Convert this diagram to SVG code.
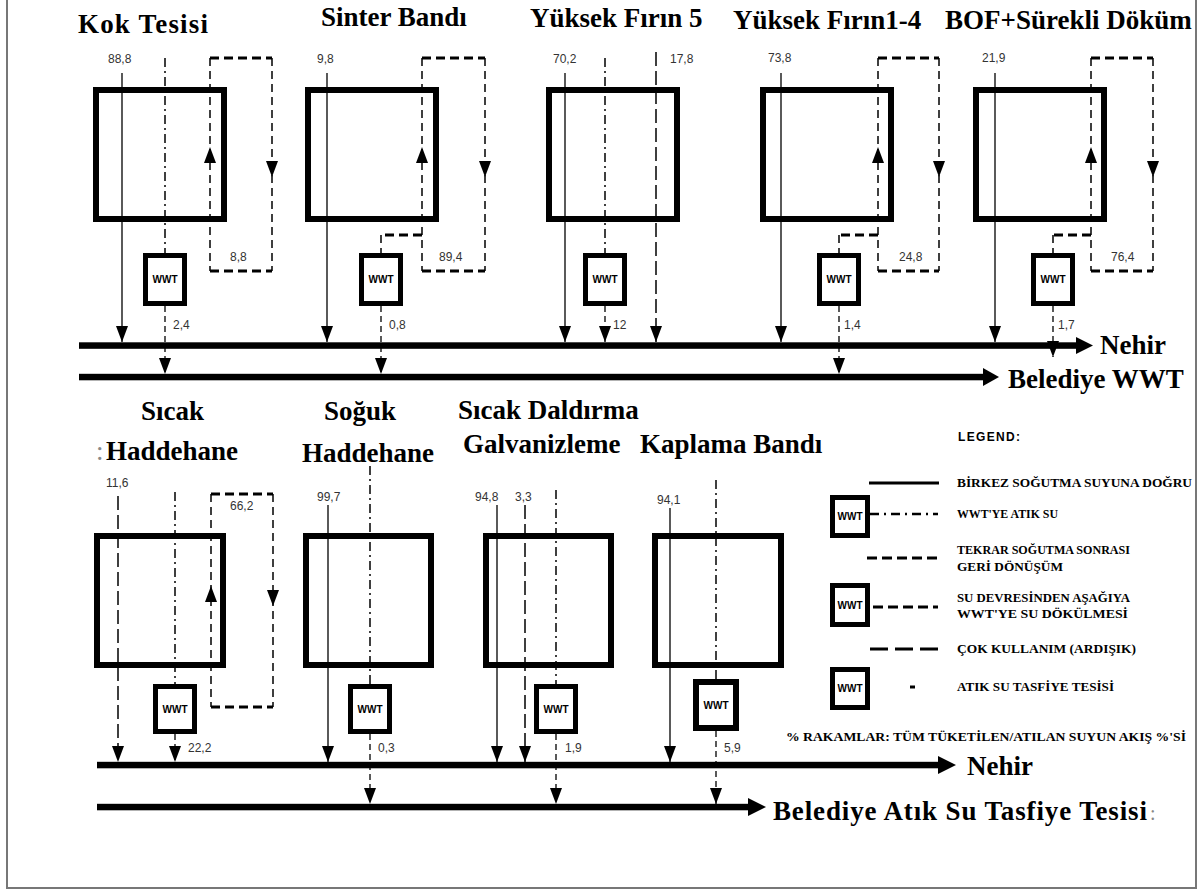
<svg xmlns="http://www.w3.org/2000/svg" width="1198" height="890" viewBox="0 0 1198 890">
<defs>
<style>
.box{fill:none;stroke:#000;stroke-width:6}
.wwt{fill:#fff;stroke:#000;stroke-width:5}
.s{fill:none;stroke:#000;stroke-width:1.3}
.dd{fill:none;stroke:#000;stroke-width:1.5;stroke-dasharray:9 4 2 4}
.dv{fill:none;stroke:#000;stroke-width:1.5;stroke-dasharray:8 5}
.dh{fill:none;stroke:#000;stroke-width:3;stroke-dasharray:9 5}
.ld{fill:none;stroke:#000;stroke-width:1.5;stroke-dasharray:14 5}
.bd{fill:none;stroke:#000;stroke-width:1.3;stroke-dasharray:6 4}
.main{fill:#000}
.t{font-family:"Liberation Serif","Times New Roman",serif;font-weight:bold;font-size:27px;fill:#000}
.n{font-family:"Liberation Sans",Arial,sans-serif;font-size:12px;fill:#333}
.w{font-family:"Liberation Sans",Arial,sans-serif;font-weight:bold;font-size:10px;text-anchor:middle;fill:#000}
.lg{font-family:"Liberation Serif","Times New Roman",serif;font-weight:bold;font-size:12.5px;fill:#000}
.lgh{font-family:"Liberation Sans",Arial,sans-serif;font-weight:bold;font-size:12px;fill:#000}
.gr{fill:#888}
</style>
<marker id="ah" markerUnits="userSpaceOnUse" markerWidth="16" markerHeight="12" viewBox="0 0 16 12" refX="16" refY="6" orient="auto"><path d="M0,0 L16,6 L0,12 z" fill="#000"/></marker>
</defs>
<rect width="1198" height="890" fill="#fff"/>
<path d="M7,0 V888 H1196 V0" fill="none" stroke="#777" stroke-width="2"/>

<!-- main flow lines -->
<g id="nehir-top">
<rect class="main" x="79" y="342.3" width="999" height="6.5"/>
<polygon class="main" points="1076,337 1093,345.5 1076,354"/>
<text class="t" x="1100" y="354">Nehir</text>
</g>
<g id="belediye-top">
<rect class="main" x="79" y="373.8" width="906" height="6.5"/>
<polygon class="main" points="983,368 999,377 983,386"/>
<text class="t" x="1008" y="388">Belediye WWT</text>
</g>
<g id="nehir-bottom">
<rect class="main" x="97" y="761.8" width="843" height="6.5"/>
<polygon class="main" points="938,756 956,765 938,774"/>
<text class="t" x="967" y="775">Nehir</text>
</g>
<g id="belediye-bottom">
<rect class="main" x="97" y="803.8" width="653" height="6.5"/>
<polygon class="main" points="748,798 766,807 748,816"/>
<text class="t" x="773" y="820" textLength="374">Belediye Atık Su Tasfiye Tesisi</text><text class="t gr" x="1150" y="820" style="font-weight:normal;font-size:20px">:</text>
</g>

<!-- plant nodes -->
<g id="node-kok">
<text class="t" x="78" y="33" textLength="130">Kok Tesisi</text>
<rect class="box" x="96" y="90" width="128" height="129"/>
<text class="n" x="108" y="63">88,8</text>
<text class="n" x="230" y="261">8,8</text>
<text class="n" x="173" y="329">2,4</text>
</g>
<g id="node-sinter">
<text class="t" x="321" y="26">Sinter Bandı</text>
<rect class="box" x="308" y="90" width="128" height="129"/>
<text class="n" x="317" y="63">9,8</text>
<text class="n" x="439" y="261">89,4</text>
<text class="n" x="389" y="329">0,8</text>
</g>
<g id="node-yf5">
<text class="t" x="530" y="27">Yüksek Fırın 5</text>
<rect class="box" x="549" y="90" width="128" height="129"/>
<text class="n" x="553" y="63">70,2</text>
<text class="n" x="670" y="63">17,8</text>
<text class="n" x="613" y="329">12</text>
</g>
<g id="node-yf14">
<text class="t" x="733" y="29">Yüksek Fırın1-4</text>
<rect class="box" x="763" y="90" width="128" height="129"/>
<text class="n" x="768" y="62">73,8</text>
<text class="n" x="899" y="261">24,8</text>
<text class="n" x="844" y="329">1,4</text>
</g>
<g id="node-bof">
<text class="t" x="945" y="29">BOF+Sürekli Döküm</text>
<rect class="box" x="976" y="90" width="128" height="129"/>
<text class="n" x="982" y="62">21,9</text>
<text class="n" x="1111" y="261">76,4</text>
<text class="n" x="1058" y="329">1,7</text>
</g>
<g id="node-sicak-haddehane">
<text class="t" x="141" y="420">Sıcak</text>
<text class="t gr" x="96" y="460" style="font-weight:normal">:</text><text class="t" x="106" y="460">Haddehane</text>
<rect class="box" x="97" y="536" width="126" height="129"/>
<text class="n" x="106" y="487">11,6</text>
<text class="n" x="230" y="510">66,2</text>
<text class="n" x="188" y="752">22,2</text>
</g>
<g id="node-soguk-haddehane">
<text class="t" x="324" y="420">Soğuk</text>
<text class="t" x="302" y="462">Haddehane</text>
<rect class="box" x="306" y="536" width="125" height="129"/>
<text class="n" x="317" y="501">99,7</text>
<text class="n" x="378" y="752">0,3</text>
</g>
<g id="node-galvanizleme">
<text class="t" x="458" y="419">Sıcak Daldırma</text>
<text class="t" x="463" y="453">Galvanizleme</text>
<rect class="box" x="486" y="536" width="125" height="129"/>
<text class="n" x="475" y="501">94,8</text>
<text class="n" x="515" y="501">3,3</text>
<text class="n" x="565" y="752">1,9</text>
</g>
<g id="node-kaplama">
<text class="t" x="640" y="453">Kaplama Bandı</text>
<rect class="box" x="655" y="536" width="126" height="129"/>
<text class="n" x="657" y="504">94,1</text>
<text class="n" x="724" y="752">5,9</text>
</g>

<!-- connectors -->
<g id="connectors">
<!-- Kok -->
<path class="s" d="M122,73 V342" marker-end="url(#ah)"/>
<path class="dd" d="M165,58 V253"/>
<path class="bd" d="M165,306 V374" marker-end="url(#ah)"/>
<path class="dh" d="M210,58 H272 M210,271 H272"/>
<path class="dv" d="M210,58 V271 M272,58 V271"/>
<polygon points="204,163 210,147 216,163"/><polygon points="266,161 272,177 278,161"/>
<!-- Sinter -->
<path class="s" d="M327,73 V342" marker-end="url(#ah)"/>
<path class="dh" d="M422,58 H485 M422,271 H485 M422,235 H381"/>
<path class="dv" d="M422,58 V271 M485,58 V271 M381,235 V253"/>
<path class="bd" d="M381,306 V374" marker-end="url(#ah)"/>
<polygon points="416,163 422,147 428,163"/><polygon points="479,161 485,177 491,161"/>
<!-- YF5 -->
<path class="s" d="M565,73 V342" marker-end="url(#ah)"/>
<path class="dd" d="M605,58 V253"/>
<path class="bd" d="M605,306 V342" marker-end="url(#ah)"/>
<path class="ld" d="M656,52 V342" marker-end="url(#ah)"/>
<!-- YF1-4 -->
<path class="s" d="M781,73 V342" marker-end="url(#ah)"/>
<path class="dh" d="M878,58 H939 M878,271 H939 M878,235 H839"/>
<path class="dv" d="M878,58 V271 M939,58 V271 M839,235 V253"/>
<path class="bd" d="M839,306 V374" marker-end="url(#ah)"/>
<polygon points="872,163 878,147 884,163"/><polygon points="933,161 939,177 945,161"/>
<!-- BOF -->
<path class="s" d="M995,73 V342" marker-end="url(#ah)"/>
<path class="dh" d="M1091,58 H1153 M1091,271 H1153 M1091,235 H1053"/>
<path class="dv" d="M1091,58 V271 M1153,58 V271 M1053,235 V253"/>
<path class="bd" d="M1053,306 V357" marker-end="url(#ah)"/>
<polygon points="1085,163 1091,147 1097,163"/><polygon points="1147,161 1153,177 1159,161"/>
<!-- Sicak Haddehane -->
<path class="ld" d="M118,496 V762" marker-end="url(#ah)"/>
<path class="dd" d="M175,492 V684"/>
<path class="bd" d="M175,734 V762" marker-end="url(#ah)"/>
<path class="dh" d="M211,494 H273 M211,707 H273"/>
<path class="dv" d="M211,494 V707 M273,494 V707"/>
<polygon points="205,602 211,586 217,602"/><polygon points="267,590 273,606 279,590"/>
<!-- Soguk Haddehane -->
<path class="s" d="M328,505 V762" marker-end="url(#ah)"/>
<path class="dd" d="M370,466 V684"/>
<path class="bd" d="M370,734 V804" marker-end="url(#ah)"/>
<!-- Galvanizleme -->
<path class="s" d="M497,505 V762" marker-end="url(#ah)"/>
<path class="ld" d="M525,505 V762" marker-end="url(#ah)"/>
<path class="dd" d="M556,490 V684"/>
<path class="bd" d="M556,734 V804" marker-end="url(#ah)"/>
<!-- Kaplama -->
<path class="s" d="M670,508 V762" marker-end="url(#ah)"/>
<path class="dd" d="M716,480 V679"/>
<path class="bd" d="M716,731 V804" marker-end="url(#ah)"/>
</g>

<!-- WWT units -->
<g id="wwt-kok"><rect class="wwt" x="145.5" y="255.5" width="39" height="48"/><text class="w" x="165" y="283">WWT</text></g>
<g id="wwt-sinter"><rect class="wwt" x="361.5" y="255.5" width="39" height="48"/><text class="w" x="381" y="283">WWT</text></g>
<g id="wwt-yf5"><rect class="wwt" x="585.5" y="255.5" width="39" height="48"/><text class="w" x="605" y="283">WWT</text></g>
<g id="wwt-yf14"><rect class="wwt" x="819.5" y="255.5" width="39" height="48"/><text class="w" x="839" y="283">WWT</text></g>
<g id="wwt-bof"><rect class="wwt" x="1033.5" y="255.5" width="39" height="48"/><text class="w" x="1053" y="283">WWT</text></g>
<g id="wwt-sicak"><rect class="wwt" x="155.5" y="686.5" width="39" height="45"/><text class="w" x="175" y="713">WWT</text></g>
<g id="wwt-soguk"><rect class="wwt" x="350.5" y="686.5" width="39" height="45"/><text class="w" x="370" y="713">WWT</text></g>
<g id="wwt-galv"><rect class="wwt" x="536.5" y="686.5" width="39" height="45"/><text class="w" x="556" y="713">WWT</text></g>
<g id="wwt-kaplama"><rect class="wwt" x="696" y="682" width="40" height="46" style="stroke-width:6"/><text class="w" x="716" y="709">WWT</text></g>

<!-- legend -->
<g id="legend">
<text class="lgh" x="958" y="441" textLength="62">LEGEND:</text>
<line x1="869" y1="483" x2="939" y2="483" stroke="#000" stroke-width="3"/>
<text class="lg" x="957" y="487" textLength="235" lengthAdjust="spacingAndGlyphs">BİRKEZ SOĞUTMA SUYUNA DOĞRU</text>
<rect class="wwt" x="832.5" y="497.5" width="35" height="38"/><text class="w" x="850" y="520">WWT</text>
<line x1="870" y1="514" x2="938" y2="514" stroke="#000" stroke-width="2.5" stroke-dasharray="9 5 2 5"/>
<text class="lg" x="957" y="518" textLength="101" lengthAdjust="spacingAndGlyphs">WWT'YE ATIK SU</text>
<line x1="867" y1="558" x2="940" y2="558" stroke="#000" stroke-width="3" stroke-dasharray="10 5"/>
<text class="lg" x="957" y="554" textLength="173" lengthAdjust="spacingAndGlyphs">TEKRAR SOĞUTMA SONRASI</text>
<text class="lg" x="957" y="571" textLength="106" lengthAdjust="spacingAndGlyphs">GERİ DÖNÜŞÜM</text>
<rect class="wwt" x="832.5" y="585.5" width="35" height="39"/><text class="w" x="850" y="609">WWT</text>
<line x1="873" y1="607" x2="938" y2="607" stroke="#000" stroke-width="3" stroke-dasharray="10 5"/>
<text class="lg" x="957" y="602" textLength="173" lengthAdjust="spacingAndGlyphs">SU DEVRESİNDEN AŞAĞIYA</text>
<text class="lg" x="957" y="618" textLength="171" lengthAdjust="spacingAndGlyphs">WWT'YE SU DÖKÜLMESİ</text>
<line x1="870" y1="649" x2="938" y2="649" stroke="#000" stroke-width="3" stroke-dasharray="18 7"/>
<text class="lg" x="957" y="653" textLength="179" lengthAdjust="spacingAndGlyphs">ÇOK KULLANIM (ARDIŞIK)</text>
<rect class="wwt" x="832.5" y="669.5" width="35" height="38"/><text class="w" x="850" y="692">WWT</text>
<line x1="910" y1="687" x2="915" y2="687" stroke="#000" stroke-width="3"/>
<text class="lg" x="957" y="691" textLength="157" lengthAdjust="spacingAndGlyphs">ATIK SU TASFİYE TESİSİ</text>
<text class="lg" x="786" y="741" textLength="400" lengthAdjust="spacingAndGlyphs">% RAKAMLAR: TÜM TÜKETİLEN/ATILAN SUYUN AKIŞ %'Sİ</text>
</g>
</svg>
